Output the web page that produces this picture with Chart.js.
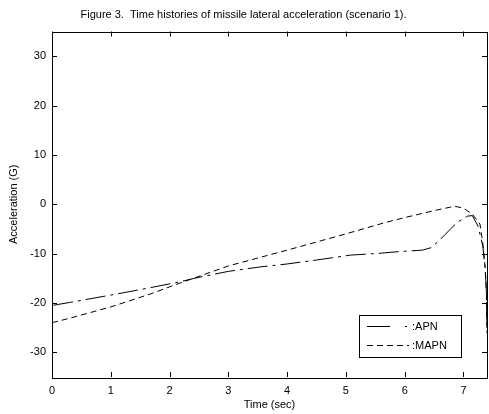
<!DOCTYPE html>
<html>
<head>
<meta charset="utf-8">
<script src="https://cdn.jsdelivr.net/npm/chart.js@4/dist/chart.umd.min.js"></script>
<style>
  html, body { margin: 0; padding: 0; background: #fff; }
  #wrap { width: 489px; height: 414px; }
</style>
</head>
<body>
<div id="wrap"><canvas id="accel"></canvas></div>
<script>
// values
var apnTime  = [0, 0.005, 0.3, 1, 1.5, 2.1, 2.5, 3, 3.54, 4, 4.5, 5.08, 5.5, 5.9, 6.3, 6.45, 6.6, 6.78, 6.9, 7.07, 7.15, 7.25, 7.33, 7.37, 7.39, 7.4];
var apnAccel = [-27, -20.5, -19.9, -18.4, -17.3, -15.9, -14.8, -13.6, -12.7, -12.1, -11.3, -10.3, -10.0, -9.6, -9.3, -8.8, -7.2, -5.0, -3.6, -2.4, -2.3, -4.5, -8.6, -13.3, -17.8, -26];

var mapnTime  = [0, 0.3, 1, 1.67, 2.1, 2.5, 3, 4, 5, 5.64, 6, 6.5, 6.85, 7.0, 7.15, 7.28, 7.33, 7.37, 7.39, 7.4];
var mapnAccel = [-24, -23.1, -20.8, -18.2, -16.3, -14.6, -12.5, -9.3, -6.0, -3.8, -2.7, -1.3, -0.4, -0.8, -2.0, -4.0, -8.0, -13, -18, -26];

var xTicks = [0, 1, 2, 3, 4, 5, 6, 7];
var yTicks = [-30, -20, -10, 0, 10, 20, 30];

function pts(t, v) {
    return t.map(function (x, i) { return {x: x, y: v[i]}; });
}

var font = "'Liberation Sans', Arial, sans-serif";
Chart.defaults.font.family = font;
Chart.defaults.font.size = 11;
Chart.defaults.color = '#000';

// matlab style box: frame plus inward ticks on all four sides, and legend in the lower right
var matlabBox = {
    id: 'matlabBox',
    afterDraw: function (chart) {
        var c = chart.ctx, a = chart.chartArea;
        var xs = chart.scales.x, ys = chart.scales.y;
        c.save();
        c.strokeStyle = '#000';
        c.lineWidth = 1;
        c.setLineDash([]);
        c.strokeRect(Math.round(a.left) + 0.5, Math.round(a.top) + 0.5,
            Math.round(a.right - a.left), Math.round(a.bottom - a.top));
        c.beginPath();
        xTicks.forEach(function (t) {
            var px = Math.round(xs.getPixelForValue(t)) + 0.5;
            c.moveTo(px, a.bottom); c.lineTo(px, a.bottom - 5);
            c.moveTo(px, a.top); c.lineTo(px, a.top + 5);
        });
        yTicks.forEach(function (t) {
            var py = Math.round(ys.getPixelForValue(t)) + 0.5;
            c.moveTo(a.left, py); c.lineTo(a.left + 5, py);
            c.moveTo(a.right, py); c.lineTo(a.right - 5, py);
        });
        c.stroke();

        // legend
        var bx = a.left + 307, by = a.top + 283.5, bw = 102, bh = 42;
        c.fillStyle = '#fff';
        c.fillRect(bx, by, bw, bh);
        c.strokeRect(bx + 0.5, by + 0.5, bw, bh);
        var samples = [[23, 15, 2, 100], [6, 4]];
        chart.data.datasets.forEach(function (ds, i) {
            var ly = by + 11.5 + i * 19;
            c.setLineDash(samples[i]);
            c.beginPath();
            c.moveTo(bx + 8, ly);
            c.lineTo(bx + 50, ly);
            c.stroke();
            c.setLineDash([]);
            c.fillStyle = '#000';
            c.font = '11px ' + font;
            c.textBaseline = 'middle';
            c.textAlign = 'left';
            c.fillText(ds.label, bx + 53, ly + 0.5);
        });
        c.restore();
    }
};

var ctx = document.getElementById('accel').getContext('2d');
new Chart(ctx, {
    type: 'line',
    data: {
        datasets: [
            {
                label: ':APN',
                data: pts(apnTime, apnAccel),
                borderColor: '#000',
                borderWidth: 1,
                borderDash: [20, 5, 3, 5],
                pointRadius: 0,
                tension: 0
            },
            {
                label: ':MAPN',
                data: pts(mapnTime, mapnAccel),
                borderColor: '#000',
                borderWidth: 1,
                borderDash: [6, 4],
                pointRadius: 0,
                tension: 0
            }
        ]
    },
    options: {
        responsive: true,
        maintainAspectRatio: false,
        animation: false,
        layout: {padding: {left: 0, right: 2, top: 0, bottom: 0}},
        plugins: {
            legend: {display: false},
            tooltip: {enabled: false},
            title: {
                display: true,
                text: 'Figure 3.  Time histories of missile lateral acceleration (scenario 1).',
                font: {size: 11, weight: 'normal'},
                color: '#000',
                padding: {top: 8, bottom: 10.3}
            }
        },
        scales: {
            x: {
                type: 'linear',
                min: 0,
                max: 7.4,
                afterBuildTicks: function (s) { s.ticks = xTicks.map(function (v) { return {value: v}; }); },
                afterFit: function (s) { s.height = 37; },
                grid: {display: false, drawTicks: false},
                border: {display: false},
                ticks: {padding: 7, maxRotation: 0, autoSkip: false},
                title: {display: true, text: 'Time (sec)', padding: {top: 0, bottom: 2}}
            },
            y: {
                min: -35,
                max: 35,
                afterBuildTicks: function (s) { s.ticks = yTicks.map(function (v) { return {value: v}; }); },
                afterFit: function (s) { s.width = 52; },
                grid: {display: false, drawTicks: false},
                border: {display: false},
                ticks: {padding: 6, autoSkip: false},
                title: {display: true, text: 'Acceleration (G)', padding: {top: 7.5, bottom: 0}}
            }
        }
    },
    plugins: [matlabBox]
});
</script>
</body>
</html>
